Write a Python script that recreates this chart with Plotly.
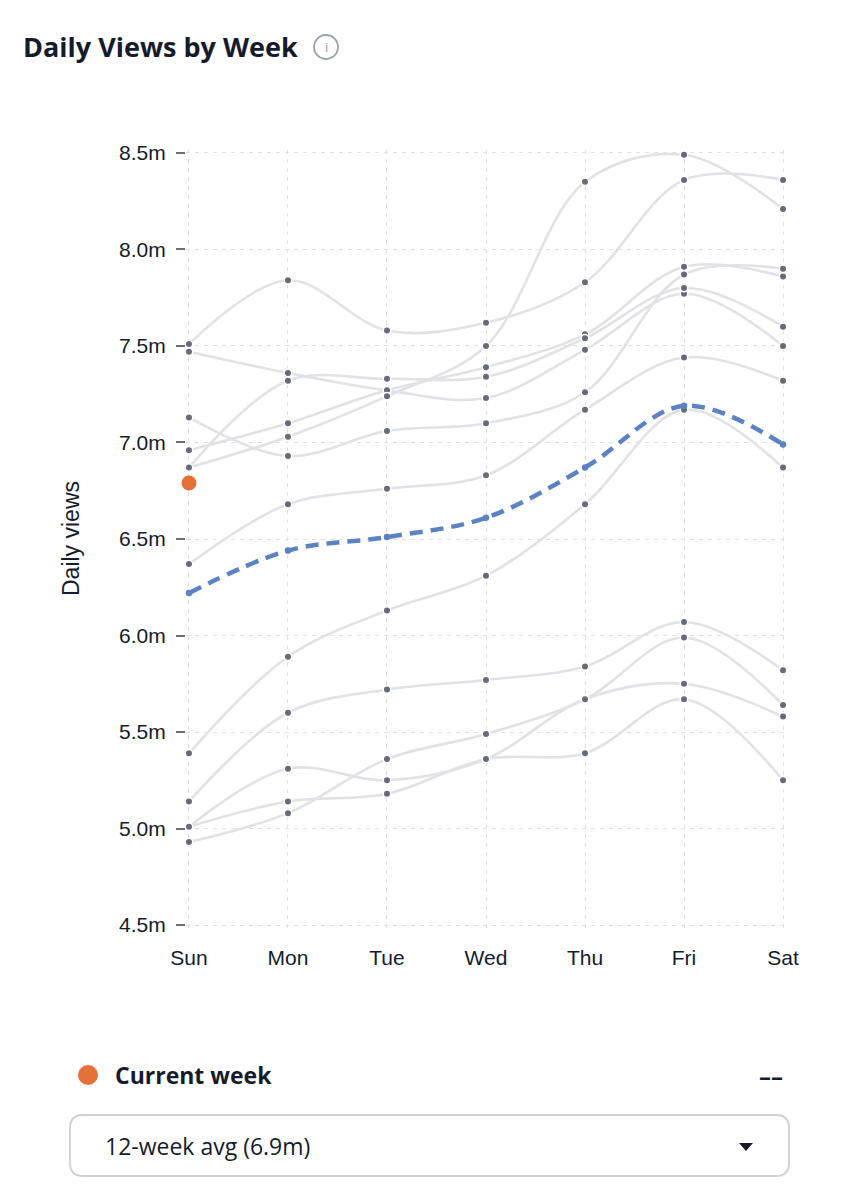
import plotly.graph_objects as go

# Daily views (millions) for each of the last 12 weeks, Sun..Sat
days = ["Sun", "Mon", "Tue", "Wed", "Thu", "Fri", "Sat"]

week_01 = [7.51, 7.84, 7.58, 7.62, 7.83, 8.36, 8.36]
week_02 = [7.47, 7.36, 7.27, 7.23, 7.48, 7.77, 7.50]
week_03 = [6.96, 7.10, 7.27, 7.39, 7.56, 7.91, 7.86]
week_04 = [6.87, 7.03, 7.24, 7.50, 8.35, 8.49, 8.21]
week_05 = [6.87, 7.32, 7.33, 7.34, 7.54, 7.80, 7.60]
week_06 = [7.13, 6.93, 7.06, 7.10, 7.26, 7.87, 7.90]
week_07 = [6.37, 6.68, 6.76, 6.83, 7.17, 7.44, 7.32]
week_08 = [5.39, 5.89, 6.13, 6.31, 6.68, 7.17, 6.87]
week_09 = [5.14, 5.60, 5.72, 5.77, 5.84, 6.07, 5.82]
week_10 = [5.01, 5.31, 5.25, 5.36, 5.67, 5.75, 5.58]
week_11 = [5.01, 5.14, 5.18, 5.36, 5.39, 5.67, 5.25]
week_12 = [4.93, 5.08, 5.36, 5.49, 5.67, 5.99, 5.64]

past_weeks = [week_01, week_02, week_03, week_04, week_05, week_06,
              week_07, week_08, week_09, week_10, week_11, week_12]

avg_12wk = [6.22, 6.44, 6.51, 6.61, 6.87, 7.19, 6.99]
current_week = [6.79]

y_ticks = [4.5, 5.0, 5.5, 6.0, 6.5, 7.0, 7.5, 8.0, 8.5]
y_tick_text = ["4.5m", "5.0m", "5.5m", "6.0m", "6.5m", "7.0m", "7.5m", "8.0m", "8.5m"]

# the page puts the figure 8px in from the corner (body margin);
# plot box on the page is x 186..786, y 150..928 (a few px of padding
# around the data range so plotly keeps the edge grid lines)
OFF = 8
W, H = 854, 1192
L, T = 186 - OFF, 150 - OFF
R, B = W - (786 - OFF), H - (928 - OFF)
PW, PH = W - L - R, H - T - B
X_PAD, Y_PAD = 0.03, 0.015


def px(x):
    # page pixel x -> paper x
    return (x - OFF - L) / PW


def py(y):
    # page pixel y -> paper y
    return (H - B - (y - OFF)) / PH


x_idx = list(range(len(days)))
TEXT = "#141b2d"
SANS = "Liberation Sans"

fig = go.Figure()

for wk in past_weeks:
    fig.add_trace(go.Scatter(
        x=x_idx, y=wk,
        mode="lines+markers",
        line=dict(color="#e1e2e6", width=2.6, shape="spline", smoothing=1.0),
        marker=dict(size=7.5, color="#676a7b", line=dict(color="white", width=1.5)),
        cliponaxis=False,
        hoverinfo="skip",
        showlegend=False,
    ))

fig.add_trace(go.Scatter(
    x=x_idx, y=avg_12wk,
    mode="lines+markers",
    line=dict(color="#5b82c2", width=4.5, dash="13px,8px", shape="spline", smoothing=1.0),
    marker=dict(size=6.5, color="#5b82c2"),
    cliponaxis=False,
    showlegend=False,
))

fig.add_trace(go.Scatter(
    x=x_idx[:len(current_week)], y=current_week,
    mode="markers",
    marker=dict(size=15, color="#e4703a"),
    cliponaxis=False,
    showlegend=False,
))

# title, info icon, y title, legend row and dropdown box
annotations = [
    dict(text="<b>Daily Views by Week</b>", x=px(21), y=py(47), xanchor="left", yanchor="middle",
         font=dict(family="Open Sans", size=27, color=TEXT)),
    dict(text="i", x=px(326), y=py(47), xanchor="center", yanchor="middle",
         font=dict(family="Open Sans", size=13, color="#9aa0ab")),
    dict(text="Daily views", x=px(71), y=py(538), xanchor="center", yanchor="middle", textangle=-90,
         font=dict(family=SANS, size=23, color=TEXT)),
    dict(text="<b>Current week</b>", x=px(113), y=py(1075), xanchor="left", yanchor="middle",
         font=dict(family="Open Sans", size=23, color=TEXT)),
    dict(text="<b>––</b>", x=px(785), y=py(1075), xanchor="right", yanchor="middle",
         font=dict(family="Open Sans", size=24, color=TEXT)),
    dict(text="12-week avg (6.9m)", x=px(103), y=py(1146), xanchor="left", yanchor="middle",
         font=dict(family="Open Sans", size=23, color=TEXT)),
]
for a in annotations:
    a.update(xref="paper", yref="paper", showarrow=False)


def rounded_box(x0, y0, x1, y1, r):
    rx, ry = r / PW, r / PH
    X0, X1 = px(x0), px(x1)
    Yt, Yb = py(y0), py(y1)
    return (f"M {X0 + rx},{Yt} L {X1 - rx},{Yt} Q {X1},{Yt} {X1},{Yt - ry} "
            f"L {X1},{Yb + ry} Q {X1},{Yb} {X1 - rx},{Yb} "
            f"L {X0 + rx},{Yb} Q {X0},{Yb} {X0},{Yb + ry} "
            f"L {X0},{Yt - ry} Q {X0},{Yt} {X0 + rx},{Yt} Z")


shapes = [
    dict(type="circle", x0=px(314), x1=px(338), y0=py(59), y1=py(35),
         line=dict(color="#9aa0ab", width=1.8)),
    dict(type="circle", x0=px(78), x1=px(98), y0=py(1085), y1=py(1065),
         fillcolor="#e4703a", line=dict(width=0)),
    dict(type="path", path=rounded_box(70, 1115, 789, 1176, 13),
         line=dict(color="#d0d0d4", width=1.8), fillcolor="white"),
    dict(type="path",
         path=f"M {px(739)},{py(1143)} L {px(753)},{py(1143)} L {px(746)},{py(1151)} Z",
         fillcolor=TEXT, line=dict(width=0)),
]
for s in shapes:
    s.update(xref="paper", yref="paper", layer="above")

fig.update_layout(
    width=W, height=H,
    margin=dict(l=L, r=R, t=T, b=B),
    paper_bgcolor="white",
    plot_bgcolor="white",
    annotations=annotations,
    shapes=shapes,
    font=dict(family=SANS, size=21, color=TEXT),
)

grid = dict(showgrid=True, gridcolor="#e0e0e0", griddash="4px,5px", gridwidth=1.2,
            zeroline=False, showline=False)

fig.update_xaxes(
    range=[-X_PAD, len(days) - 1 + X_PAD],
    tickvals=x_idx, ticktext=days,
    ticks="outside", ticklen=11, tickcolor="rgba(0,0,0,0)",
    tickfont=dict(family=SANS, size=21, color=TEXT),
    **grid,
)

fig.update_yaxes(
    range=[y_ticks[0] - Y_PAD, y_ticks[-1] + Y_PAD],
    tickvals=y_ticks, ticktext=y_tick_text,
    ticks="outside", ticklen=9, tickwidth=2, tickcolor="#6f6f6f",
    ticklabelstandoff=6,
    tickfont=dict(family=SANS, size=21, color=TEXT),
    **grid,
)

fig.write_html("out.html")
